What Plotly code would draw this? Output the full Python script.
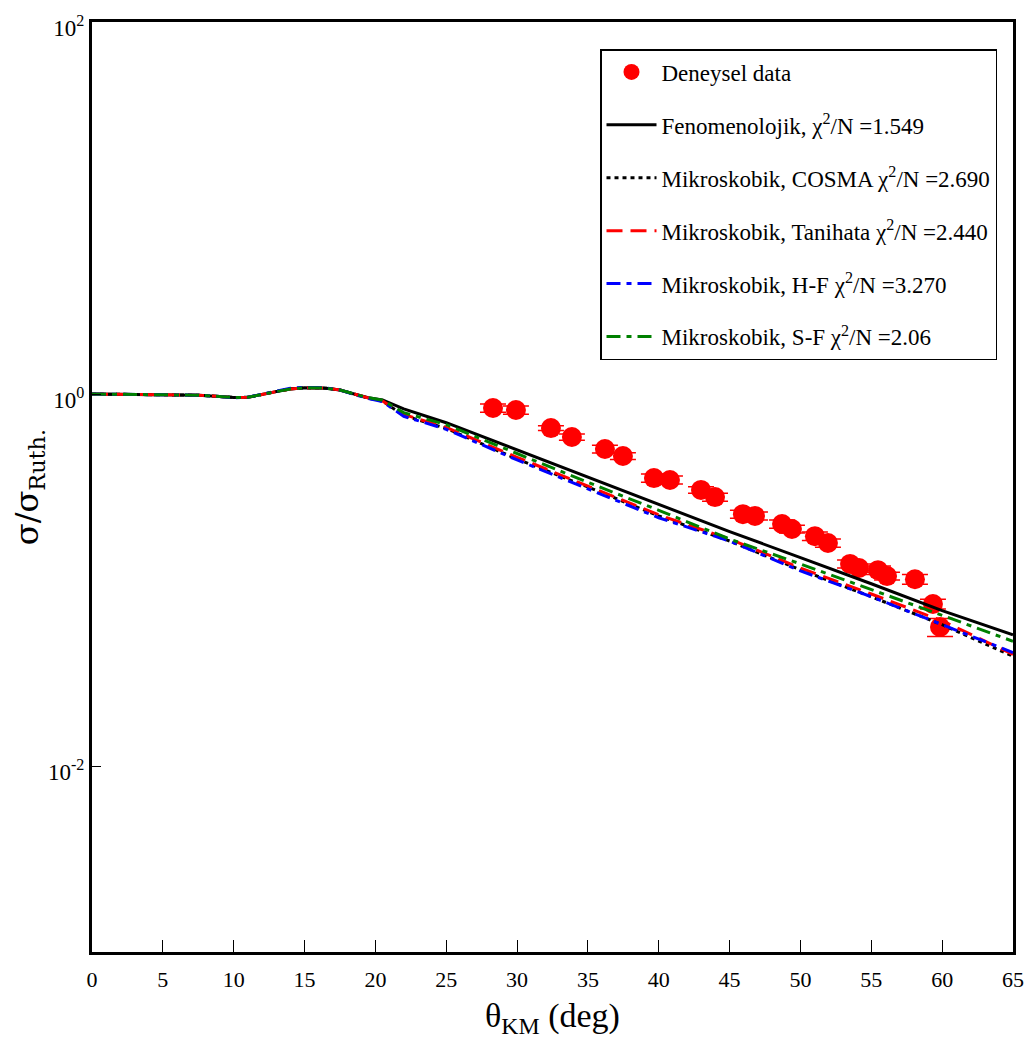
import plotly.graph_objects as go

# ---------------- data ----------------
exp_theta = [28.30, 29.92, 32.39, 33.87, 36.20, 37.47, 39.66, 40.79, 42.98, 43.97,
             45.94, 46.79, 48.70, 49.40, 51.02, 51.94, 53.50, 54.13, 55.47, 56.11,
             58.08, 59.35, 59.85]
exp_ratio = [0.841, 0.820, 0.656, 0.587, 0.506, 0.464, 0.353, 0.345, 0.305, 0.279,
             0.226, 0.221, 0.200, 0.188, 0.172, 0.158, 0.122, 0.116, 0.113, 0.105,
             0.101, 0.0743, 0.0559]
exp_err = [0.042, 0.041, 0.020, 0.023, 0.025, 0.019, 0.018, 0.017, 0.012, 0.014,
           0.011, 0.011, 0.010, 0.009, 0.009, 0.008, 0.006, 0.006, 0.006, 0.005,
           0.006, 0.0045, 0.0062]

theta = [0, 2.5, 5, 7.5, 9, 10, 11, 12, 13, 14, 15, 16.5, 17.5, 18.5, 19.5, 20.5,
         22, 25, 30, 35, 40, 45, 50, 55, 60, 65]

fenomenolojik = [1.0, 0.995, 0.99, 0.985, 0.97, 0.958, 0.96, 0.99, 1.03, 1.065, 1.08, 1.075,
                 1.05, 1.0, 0.955, 0.929, 0.832, 0.701, 0.501, 0.359, 0.257, 0.182, 0.132,
                 0.0955, 0.0684, 0.0507]
cosma = [1.0, 0.995, 0.99, 0.985, 0.97, 0.958, 0.96, 0.99, 1.03, 1.065, 1.08, 1.075,
         1.05, 1.0, 0.95, 0.915, 0.767, 0.653, 0.447, 0.316, 0.221, 0.162, 0.1135,
         0.0813, 0.0575, 0.0389]
tanihata = [1.0, 0.995, 0.99, 0.985, 0.97, 0.958, 0.96, 0.99, 1.03, 1.065, 1.08, 1.075,
            1.05, 1.0, 0.952, 0.918, 0.776, 0.661, 0.457, 0.320, 0.224, 0.166, 0.116,
            0.0841, 0.0603, 0.0398]
hf = [1.0, 0.995, 0.99, 0.985, 0.97, 0.955, 0.96, 0.995, 1.04, 1.075, 1.085, 1.08,
      1.05, 0.995, 0.945, 0.91, 0.759, 0.646, 0.442, 0.309, 0.216, 0.162, 0.112,
      0.0813, 0.0575, 0.0407]
sf = [1.0, 0.995, 0.99, 0.985, 0.97, 0.958, 0.96, 0.99, 1.03, 1.065, 1.08, 1.075,
      1.05, 1.0, 0.955, 0.925, 0.794, 0.684, 0.479, 0.335, 0.237, 0.166, 0.122,
      0.0891, 0.0646, 0.0468]

names = [
    "Fenomenolojik, χ<sup>2</sup>/N =1.549",
    "Mikroskobik, COSMA χ<sup>2</sup>/N =2.690",
    "Mikroskobik, Tanihata χ<sup>2</sup>/N =2.440",
    "Mikroskobik, H-F χ<sup>2</sup>/N =3.270",
    "Mikroskobik, S-F χ<sup>2</sup>/N =2.06",
]

FONT = "Liberation Serif"

fig = go.Figure()

fig.add_trace(go.Scatter(
    x=exp_theta, y=exp_ratio, mode="markers", name="Deneysel data",
    legendgroup="g0", legendrank=1,
    marker=dict(symbol="circle", size=20, color="#ff0000", line=dict(width=0)),
    error_y=dict(type="data", array=exp_err, visible=True, color="#ff0000",
                 thickness=1.5, width=13),
))

styles = [
    (fenomenolojik, "#000000", "solid"),
    (cosma, "#000000", "4px,4px"),
    (tanihata, "#ff0000", "16px,8px"),
    (hf, "#0000ff", "14px,6px,5px,6px"),
    (sf, "#008000", "14px,6px,5px,6px"),
]
for i in range(5):
    yv, col, dash = styles[i]
    fig.add_trace(go.Scatter(
        x=theta, y=yv, mode="lines", name=names[i], legendgroup=f"g{i+1}",
        legendrank=i + 2,
        line=dict(color=col, width=3, dash=dash),
    ))

# page offset compensation (body margin)
W, H = 1019, 1031
OX, OY = 8, 8
L, T, R, B = 92 - OX, 22 - OY, 1013 - OX, 952 - OY

fig.update_layout(
    width=W, height=H,
    margin=dict(l=L, r=W - R, t=T, b=H - B, autoexpand=False),
    plot_bgcolor="white", paper_bgcolor="white",
    font=dict(family=FONT, size=20, color="black"),
    showlegend=True,
    legend=dict(
        x=(600 - 92) / 921, y=(952 - 49) / 930, xanchor="left", yanchor="top",
        bordercolor="black", borderwidth=1.5, bgcolor="white",
        font=dict(family=FONT, size=23, color="black"),
        tracegroupgap=20, itemwidth=50,
    ),
)

fig.update_xaxes(
    range=[0, 65], dtick=5, tick0=0, automargin=False,
    showline=True, mirror=True, linewidth=3, linecolor="black",
    ticks="inside", ticklen=12, tickwidth=1, tickcolor="black",
    showgrid=False, zeroline=False,
    tickfont=dict(family=FONT, size=22), ticklabelstandoff=6,
    title=dict(text="θ<sub>KM</sub> (deg)", font=dict(family=FONT, size=34), standoff=14),
)
fig.update_yaxes(
    type="log", range=[-3, 2], automargin=False,
    tickvals=[0.01, 1, 100],
    ticktext=["10<sup>-2</sup>", "10<sup>0</sup>", "10<sup>2</sup>"],
    ticklabeloverflow="allow", ticklabelshift=6,
    showline=True, mirror=True, linewidth=3, linecolor="black",
    ticks="inside", ticklen=9, tickwidth=1, tickcolor="black",
    showgrid=False, zeroline=False,
    tickfont=dict(family=FONT, size=23),
    title=dict(text="σ/σ<sub>Ruth.</sub>", font=dict(family="DejaVu Serif", size=32), standoff=4),
)

fig.write_html("out.html")
